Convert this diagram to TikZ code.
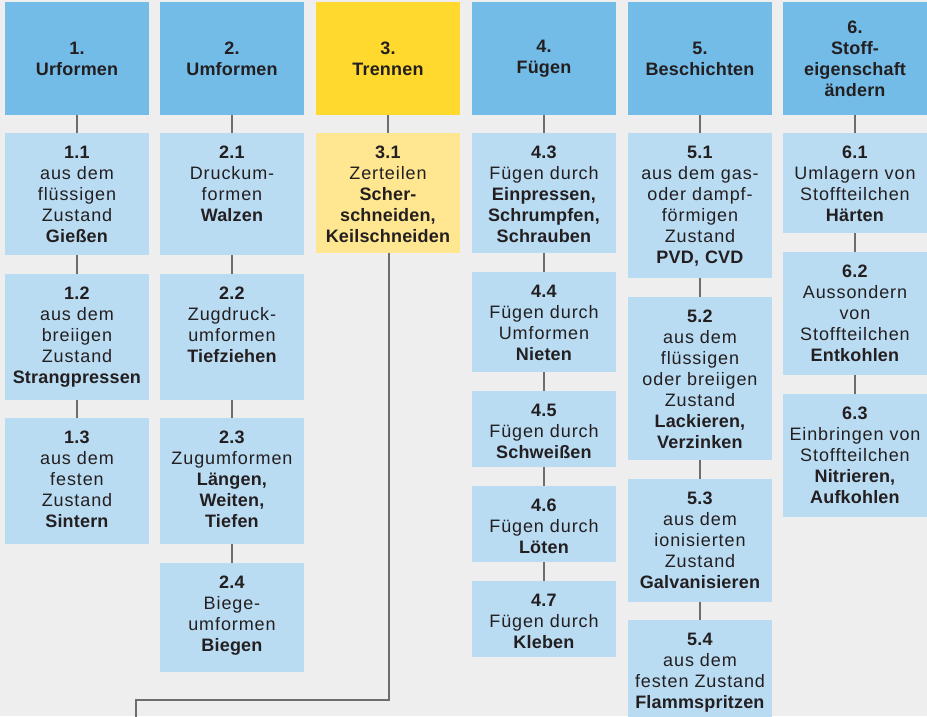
\documentclass[tikz,border=0pt]{standalone}
\usepackage{fontspec}
\setmainfont{Liberation Sans}[LetterSpace=5,BoldFeatures={LetterSpace=1}]
\usepackage{xcolor}
\usetikzlibrary{positioning}

\definecolor{bggray}{HTML}{EEEEEE}
\definecolor{headblue}{HTML}{73BCE8}
\definecolor{subblue}{HTML}{BADCF3}
\definecolor{headyellow}{HTML}{FFD92E}
\definecolor{subyellow}{HTML}{FFE691}
\definecolor{linkgray}{HTML}{6D6D6D}
\definecolor{txt}{HTML}{231F20}

\begin{document}
\begin{tikzpicture}[x=1pt, y=-1pt,
    head/.style={fill=headblue, text=txt, text width=144pt, align=center, inner sep=0pt,
        minimum height=113pt, anchor=north, font=\fontsize{18}{21}\selectfont\bfseries},
    sub/.style={fill=subblue, text=txt, text width=144pt, align=center, inner sep=0pt,
        anchor=north, text height=25pt, font=\fontsize{18}{21}\selectfont},
    link/.style={linkgray, line width=2.6pt}]
        \fill[bggray] (0,0) rectangle (927,716);
        \useasboundingbox (0,0) rectangle (927,716);

        \node[head] (h1) at (77,2) {1.\\Urformen};
        \node[head] (h2) at (232,2) {2.\\Umformen};
        \node[head, fill=headyellow] (h3) at (388,2) {3.\\Trennen};
        \node[head] (h4) at (544,2) {4.\\Fügen};
        \node[head] (h5) at (700,2) {5.\\Beschichten};
        \node[head] (h6) at (855,2) {6.\\Stoff-\\eigenschaft\\ändern};

        \node[sub, text depth=97pt] (n11) at (77,133) {\textbf{1.1}\\aus dem\\flüssigen\\Zustand\\\textbf{Gießen}};
        \node[sub, text depth=101pt] (n12) at (77,274) {\textbf{1.2}\\aus dem\\breiigen\\Zustand\\\textbf{Strangpressen}};
        \node[sub, text depth=101pt] (n13) at (77,418) {\textbf{1.3}\\aus dem\\festen\\Zustand\\\textbf{Sintern}};

        \node[sub, text depth=97pt] (n21) at (232,133) {\textbf{2.1}\\Druckum-\\formen\\\textbf{Walzen}};
        \node[sub, text depth=101pt] (n22) at (232,274) {\textbf{2.2}\\Zugdruck-\\umformen\\\textbf{Tiefziehen}};
        \node[sub, text depth=101pt] (n23) at (232,418) {\textbf{2.3}\\Zugumformen\\\textbf{Längen,}\\\textbf{Weiten,}\\\textbf{Tiefen}};
        \node[sub, text depth=84pt] (n24) at (232,563) {\textbf{2.4}\\Biege-\\umformen\\\textbf{Biegen}};

        \node[sub, fill=subyellow, text depth=95pt] (n31) at (388,133) {\textbf{3.1}\\Zerteilen\\\textbf{Scher-}\\\textbf{schneiden,}\\\textbf{Keilschneiden}};

        \node[sub, text depth=95pt] (n43) at (544,133) {\textbf{4.3}\\Fügen durch\\\textbf{Einpressen,}\\\textbf{Schrumpfen,}\\\textbf{Schrauben}};
        \node[sub, text depth=75pt] (n44) at (544,272) {\textbf{4.4}\\Fügen durch\\Umformen\\\textbf{Nieten}};
        \node[sub, text depth=51pt] (n45) at (544,391) {\textbf{4.5}\\Fügen durch\\\textbf{Schweißen}};
        \node[sub, text depth=51pt] (n46) at (544,486) {\textbf{4.6}\\Fügen durch\\\textbf{Löten}};
        \node[sub, text depth=51pt] (n47) at (544,581) {\textbf{4.7}\\Fügen durch\\\textbf{Kleben}};

        \node[sub, text depth=120pt] (n51) at (700,133) {\textbf{5.1}\\aus dem gas-\\oder dampf-\\förmigen\\Zustand\\\textbf{PVD, CVD}};
        \node[sub, text depth=138pt] (n52) at (700,297) {\textbf{5.2}\\aus dem\\flüssigen\\oder breiigen\\Zustand\\\textbf{Lackieren,}\\\textbf{Verzinken}};
        \node[sub, text depth=98pt] (n53) at (700,479) {\textbf{5.3}\\aus dem\\ionisierten\\Zustand\\\textbf{Galvanisieren}};
        \node[sub, text depth=75pt] (n54) at (700,620) {\textbf{5.4}\\aus dem\\festen Zustand\\\textbf{Flammspritzen}};

        \node[sub, text depth=75pt] (n61) at (855,133) {\textbf{6.1}\\Umlagern von\\Stoffteilchen\\\textbf{Härten}};
        \node[sub, text depth=98pt] (n62) at (855,252) {\textbf{6.2}\\Aussondern\\von\\Stoffteilchen\\\textbf{Entkohlen}};
        \node[sub, text depth=98pt] (n63) at (855,394) {\textbf{6.3}\\Einbringen von\\Stoffteilchen\\\textbf{Nitrieren,}\\\textbf{Aufkohlen}};

        \coordinate (bend) at (389,700);
        \coordinate (out) at (136,720);

        \draw[link] (h1) to (n11)
            (n11) to (n12)
            (n12) to (n13);
        \draw[link] (h2) to (n21)
            (n21) to (n22)
            (n22) to (n23)
            (n23) to (n24);
        \draw[link] (h3) to (n31);
        \draw[link] (h4) to (n43)
            (n43) to (n44)
            (n44) to (n45)
            (n45) to (n46)
            (n46) to (n47);
        \draw[link] (h5) to (n51)
            (n51) to (n52)
            (n52) to (n53)
            (n53) to (n54);
        \draw[link] (h6) to (n61)
            (n61) to (n62)
            (n62) to (n63);

        \draw[link] (n31.south -| bend) |- (bend) -| (out);
    \end{tikzpicture}
\end{document}
